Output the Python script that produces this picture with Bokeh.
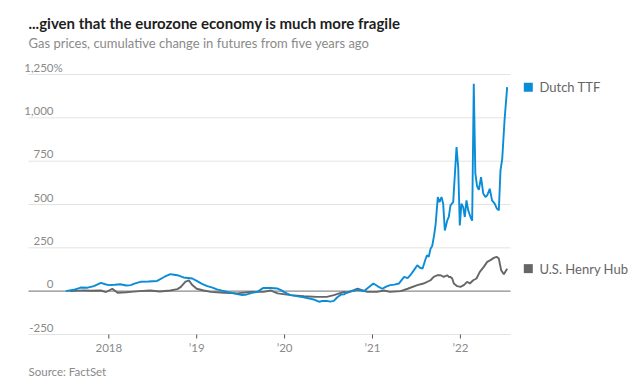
import math
from bokeh.plotting import figure
from bokeh.models import Range1d
from bokeh.core.properties import value
from bokeh.embed import file_html
from bokeh.resources import INLINE

# ---- data (decimal year, cumulative % change) ----
ttf_year = [2017.51, 2017.60, 2017.68, 2017.76, 2017.83, 2017.91, 2017.96, 2018.00, 2018.07, 2018.13,
            2018.20, 2018.25, 2018.30, 2018.36, 2018.45, 2018.55, 2018.63, 2018.70, 2018.74, 2018.78,
            2018.85, 2018.90, 2018.95, 2019.00, 2019.06, 2019.12, 2019.18, 2019.23, 2019.30, 2019.35,
            2019.42, 2019.46, 2019.52, 2019.57, 2019.63, 2019.69, 2019.73, 2019.76, 2019.84, 2019.92,
            2019.96, 2019.99, 2020.03, 2020.07, 2020.15, 2020.22, 2020.28, 2020.33, 2020.39, 2020.43,
            2020.48, 2020.52, 2020.56, 2020.60, 2020.64, 2020.68, 2020.71, 2020.77, 2020.83, 2020.90,
            2020.95, 2021.01, 2021.06, 2021.11, 2021.15, 2021.20, 2021.25, 2021.30, 2021.36, 2021.40,
            2021.43, 2021.47, 2021.51, 2021.54, 2021.57, 2021.60, 2021.62, 2021.64, 2021.66, 2021.68,
            2021.70, 2021.717, 2021.743, 2021.762, 2021.785, 2021.804, 2021.823, 2021.850, 2021.868, 2021.887,
            2021.918, 2021.956, 2021.975, 2021.993, 2022.012, 2022.032, 2022.050, 2022.069, 2022.089, 2022.115,
            2022.134, 2022.152, 2022.17, 2022.19, 2022.21, 2022.235, 2022.26, 2022.285, 2022.305, 2022.334,
            2022.36, 2022.39, 2022.415, 2022.437, 2022.456, 2022.476, 2022.502, 2022.532]
ttf_pct = [0, 8, 21, 20, 29, 48, 40, 35, 37, 40,
           33, 35, 45, 54, 56, 59, 82, 98, 95, 92,
           79, 76, 73, 59, 42, 29, 20, 10, 2, -4,
           -12, -17, -22, -19, -10, -4, 10, 19, 18, 15,
           6, -4, -14, -23, -30, -36, -42, -48, -61, -57,
           -56, -60, -56, -35, -20, -18, -6, 0, 8, 0,
           20, 44, 28, 14, 25, 35, 38, 44, 82, 75,
           92, 120, 150, 135, 131, 180, 207, 198, 244, 262,
           320, 379, 543, 514, 543, 505, 350, 407, 428, 495,
           514, 831, 716, 379, 505, 485, 428, 524, 466, 428,
           407, 1196, 680, 605, 585, 658, 563, 543, 553, 591,
           524, 505, 476, 466, 697, 764, 985, 1177]

hh_year = [2017.56, 2017.65, 2017.72, 2017.80, 2017.91, 2017.97, 2018.04, 2018.10, 2018.20, 2018.25,
           2018.35, 2018.47, 2018.58, 2018.70, 2018.78, 2018.82, 2018.87, 2018.91, 2018.95, 2019.00,
           2019.08, 2019.16, 2019.31, 2019.46, 2019.61, 2019.76, 2019.84, 2019.92, 2020.07, 2020.22,
           2020.37, 2020.48, 2020.56, 2020.64, 2020.68, 2020.71, 2020.83, 2020.94, 2021.05, 2021.13,
           2021.20, 2021.32, 2021.40, 2021.51, 2021.58, 2021.660, 2021.697, 2021.736, 2021.774, 2021.811,
           2021.850, 2021.868, 2021.887, 2021.907, 2021.925, 2021.964, 2022.001, 2022.039, 2022.077, 2022.107,
           2022.146, 2022.183, 2022.221, 2022.266, 2022.305, 2022.342, 2022.380, 2022.411, 2022.437, 2022.464,
           2022.494, 2022.532]
hh_pct = [0, 3, 4, 2, 4, -5, 14, -9, -6, -4,
          0, 4, -2, 4, 12, 25, 54, 63, 35, 14,
          4, -4, -9, -13, -4, -4, 4, -13, -23, -29,
          -33, -33, -23, -10, -4, -10, 14, -4, -4, 4,
          -4, 0, 14, 35, 44, 63, 82, 92, 92, 82,
          92, 82, 82, 73, 44, 29, 25, 35, 54, 44,
          63, 73, 111, 140, 169, 179, 192, 198, 188, 121,
          98, 130]

y_ticks = [-250, 0, 250, 500, 750, 1000, 1250]
y_tick_labels = ["-250", "0", "250", "500", "750", "1,000", "1,250"]
x_ticks = [2018, 2019, 2020, 2021, 2022]
x_tick_labels = ["2018", "\u201919", "\u201920", "\u201921", "\u201922"]
series_names = ["Dutch TTF", "U.S. Henry Hub"]

TITLE = "...given that the eurozone economy is much more fragile"
SUBTITLE = "Gas prices, cumulative change in futures from five years ago"
SOURCE = "Source: FactSet"

BLUE = "#0a8dd6"
GRAY = "#666666"
LABEL_GRAY = "#8a8a8a"
FONT = value("Lato")

# ---- layout: the plot frame covers the whole canvas; pixel -> data helpers for text placement ----
W, H = 643, 391
X_REF_PX, PX_PER_YEAR = 108.3, 87.9         # pixel of 2018 tick, pixels per year
Y0_PX, PX_PER_UNIT = 290.67, 260.0 / 1500   # pixel of 0 %, pixels per percentage point


def xd(px):
    return 2018 + (px - X_REF_PX) / PX_PER_YEAR


def yd(py):
    return (Y0_PX - py) / PX_PER_UNIT


p = figure(width=W, height=H, x_range=Range1d(xd(0), xd(W)), y_range=Range1d(yd(H), yd(0)),
           output_backend="svg", toolbar_location=None,
           min_border_left=0, min_border_right=0, min_border_top=0, min_border_bottom=0)
p.outline_line_color = None
p.axis.visible = False
p.grid.visible = False
p.background_fill_color = "white"
p.border_fill_color = "white"

PLOT_L, PLOT_R = xd(28), xd(510)

# gridlines (baseline at -250 included), zero line
grid_vals = [t for t in y_ticks if t != 0]
p.segment(x0=[PLOT_L] * len(grid_vals), x1=[PLOT_R] * len(grid_vals), y0=grid_vals, y1=grid_vals,
          line_color="#e3e3e3", line_width=1)
p.segment(x0=[PLOT_L], x1=[PLOT_R], y0=[0], y1=[0], line_color="#8c8c8c", line_width=1.3)

# x ticks and labels
p.ray(x=x_ticks, y=[y_ticks[0]] * len(x_ticks), length=4, length_units="screen",
      angle=-math.pi / 2, line_color="#555555", line_width=1)
p.text(x=x_ticks, y=[y_ticks[0]] * len(x_ticks), text=x_tick_labels, y_offset=13,
       text_align="center", text_baseline="middle", text_font=FONT, text_font_size="11.5px",
       text_color=LABEL_GRAY)

# y labels (right-aligned, above gridlines)
p.text(x=[xd(53)] * len(y_ticks), y=y_ticks, text=y_tick_labels, y_offset=-7,
       text_align="right", text_baseline="middle", text_font=FONT, text_font_size="11.5px",
       text_color=LABEL_GRAY)
p.text(x=[xd(53)], y=[y_ticks[-1]], text=["%"], y_offset=-7,
       text_align="left", text_baseline="middle", text_font=FONT, text_font_size="11.5px",
       text_color=LABEL_GRAY)

# series
p.line(hh_year, hh_pct, line_color=GRAY, line_width=1.9)
p.line(ttf_year, ttf_pct, line_color=BLUE, line_width=1.9)

# end labels with square keys
end_vals = [ttf_pct[-1], hh_pct[-1]]
p.scatter(x=[xd(527.8)] * 2, y=end_vals, marker="square", size=9, fill_color=[BLUE, GRAY],
          line_color=None)
p.text(x=[xd(539)] * 2, y=end_vals, text=series_names, text_align="left", text_baseline="middle",
       text_font=FONT, text_font_size="13px", text_color="#666666")

# titles and source
p.text(x=[xd(28)], y=[yd(22)], text=[TITLE], text_align="left", text_baseline="middle",
       text_font=FONT, text_font_size="15px", text_font_style="bold", text_color="#1e1e1e")
p.text(x=[xd(28)], y=[yd(42)], text=[SUBTITLE], text_align="left", text_baseline="middle",
       text_font=FONT, text_font_size="13px", text_color=LABEL_GRAY)
p.text(x=[xd(28)], y=[yd(371)], text=[SOURCE], text_align="left", text_baseline="middle",
       text_font=FONT, text_font_size="11.5px", text_color=LABEL_GRAY)

open("out.html", "w").write(file_html(p, INLINE))
